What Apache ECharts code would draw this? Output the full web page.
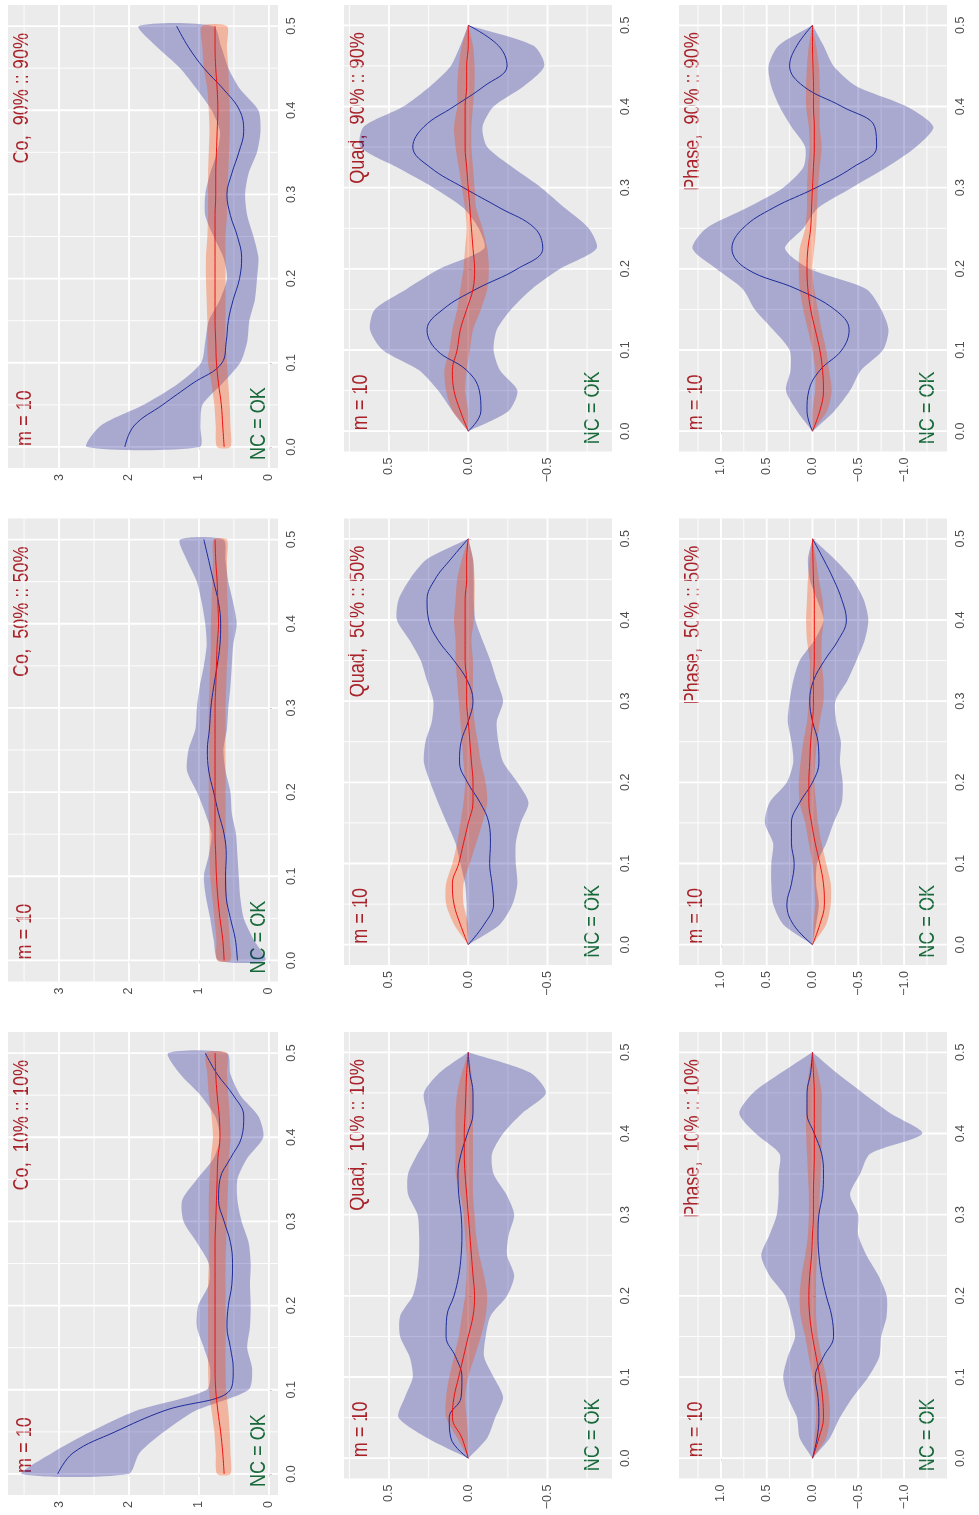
<!DOCTYPE html>
<html><head><meta charset="utf-8">
<script src="https://cdn.jsdelivr.net/npm/echarts@6/dist/echarts.min.js"></script>
<style>html,body{margin:0;padding:0;background:#fff}#c{width:979px;height:1515px}</style>
</head><body><div id="c"></div>
<script>
// ---------- data ----------
const freq = [0,0.025,0.05,0.075,0.1,0.125,0.15,0.175,0.2,0.225,0.25,0.275,0.3,0.325,0.35,0.375,0.4,0.425,0.45,0.475,0.5];
const freqTicks = [0,0.1,0.2,0.3,0.4,0.5];
const freqMinor = [0.05,0.15,0.25,0.35,0.45];
const coTicks = [0,1,2,3];
const coMinor = [0.5,1.5,2.5,3.5];
const quadTicks = [-0.5,0,0.5];
const quadMinor = [-0.75,-0.25,0.25,0.75];
const phaseTicks = [-1,-0.5,0,0.5,1];
const phaseMinor = [-1.25,-0.75,-0.25,0.25,0.75,1.25];

const titles = ['Co,  90% :: 90%','Quad,  90% :: 90%','Phase,  90% :: 90%',
                'Co,  50% :: 50%','Quad,  50% :: 50%','Phase,  50% :: 50%',
                'Co,  10% :: 10%','Quad,  10% :: 10%','Phase,  10% :: 10%'];
const mLabel = 'm = 10';
const ncLabel = 'NC = OK';

// Co 90%
const co90BlueHi = [2.60,2.41,1.79,1.30,0.97,0.91,0.86,0.70,0.60,0.65,0.79,0.91,0.91,0.84,0.74,0.70,0.82,1.03,1.27,1.60,1.86];
const co90BlueLo = [0.99,0.98,0.95,0.67,0.41,0.31,0.28,0.20,0.17,0.15,0.22,0.31,0.34,0.29,0.17,0.12,0.15,0.41,0.58,0.68,0.80];
const co90BlueMid = [2.06,1.93,1.52,1.10,0.67,0.61,0.58,0.51,0.42,0.39,0.45,0.55,0.60,0.53,0.43,0.36,0.42,0.65,0.93,1.15,1.32];
const co90RedHi = [0.74,0.76,0.78,0.82,0.87,0.88,0.88,0.89,0.90,0.90,0.88,0.87,0.87,0.87,0.86,0.85,0.86,0.88,0.93,0.95,0.96];
const co90RedLo = [0.55,0.55,0.56,0.58,0.60,0.62,0.62,0.62,0.62,0.62,0.62,0.60,0.60,0.58,0.57,0.56,0.56,0.57,0.58,0.60,0.60];
const co90RedMid = [0.64,0.66,0.68,0.72,0.75,0.76,0.77,0.77,0.77,0.77,0.77,0.77,0.76,0.76,0.75,0.74,0.73,0.74,0.76,0.77,0.77];
// Co 50%
const co50BlueHi = [0.72,0.79,0.84,0.90,0.93,0.86,0.82,0.91,1.03,1.17,1.15,1.05,1.03,0.99,0.93,0.89,0.91,0.96,1.03,1.17,1.27];
const co50BlueLo = [0.05,0.22,0.36,0.41,0.43,0.45,0.47,0.53,0.55,0.62,0.65,0.60,0.58,0.55,0.53,0.51,0.46,0.51,0.58,0.62,0.65];
const co50BlueMid = [0.45,0.48,0.55,0.61,0.62,0.61,0.64,0.72,0.79,0.86,0.88,0.85,0.83,0.79,0.74,0.70,0.69,0.72,0.79,0.86,0.93];
const co50RedHi = [0.74,0.75,0.78,0.81,0.84,0.85,0.85,0.86,0.86,0.86,0.86,0.86,0.86,0.85,0.84,0.83,0.83,0.82,0.81,0.80,0.79];
const co50RedLo = [0.55,0.56,0.58,0.60,0.61,0.62,0.62,0.62,0.62,0.62,0.62,0.62,0.62,0.61,0.60,0.58,0.58,0.59,0.60,0.60,0.60];
const co50RedMid = [0.64,0.66,0.70,0.73,0.75,0.76,0.77,0.77,0.77,0.77,0.77,0.77,0.77,0.76,0.75,0.74,0.72,0.73,0.74,0.76,0.77];
// Co 10%
const co10BlueHi = [3.53,3.10,2.55,1.90,0.89,0.84,0.93,1.03,1.01,0.86,0.86,1.03,1.22,1.24,1.03,0.79,0.70,0.77,0.98,1.27,1.44];
const co10BlueLo = [2.01,1.85,1.50,1.05,0.29,0.24,0.31,0.27,0.26,0.27,0.26,0.29,0.39,0.45,0.45,0.31,0.08,0.15,0.41,0.55,0.60];
const co10BlueMid = [3.02,2.80,2.20,1.50,0.55,0.51,0.55,0.60,0.58,0.53,0.52,0.55,0.64,0.72,0.70,0.55,0.39,0.36,0.51,0.74,0.91];
const co10RedHi = [0.74,0.76,0.78,0.82,0.86,0.87,0.87,0.87,0.87,0.87,0.86,0.86,0.86,0.86,0.85,0.83,0.80,0.82,0.86,0.88,0.90];
const co10RedLo = [0.55,0.55,0.56,0.58,0.61,0.62,0.62,0.62,0.62,0.62,0.62,0.61,0.60,0.59,0.58,0.57,0.55,0.56,0.58,0.60,0.60];
const co10RedMid = [0.64,0.66,0.69,0.73,0.76,0.77,0.77,0.77,0.77,0.77,0.77,0.77,0.76,0.75,0.74,0.73,0.70,0.71,0.74,0.76,0.77];
// Quad 90%
const quad90BlueHi = [0,0.10,0.19,0.31,0.54,0.62,0.59,0.39,0.18,-0.10,-0.065,0.03,0.22,0.45,0.68,0.66,0.41,0.24,0.11,0.05,0];
const quad90BlueLo = [0,-0.255,-0.31,-0.20,-0.16,-0.18,-0.27,-0.40,-0.58,-0.81,-0.76,-0.61,-0.46,-0.28,-0.12,-0.09,-0.16,-0.35,-0.48,-0.41,0];
const quad90BlueMid = [0,-0.08,-0.07,0.01,0.20,0.26,0.16,-0.05,-0.31,-0.47,-0.42,-0.20,0.03,0.24,0.35,0.28,0.09,-0.10,-0.245,-0.19,0];
const quad90RedHi = [0,0.10,0.14,0.15,0.12,0.10,0.07,0.05,0.03,0.02,0.01,0.02,0.04,0.06,0.08,0.09,0.07,0.07,0.06,0.04,0];
const quad90RedLo = [0,0.00,0.02,0.01,-0.01,-0.03,-0.08,-0.12,-0.13,-0.12,-0.09,-0.05,-0.04,-0.03,-0.02,-0.02,-0.03,-0.04,-0.04,-0.03,0];
const quad90RedMid = [0,0.05,0.09,0.10,0.07,0.05,0.01,-0.03,-0.04,-0.03,-0.02,-0.01,0.00,0.01,0.02,0.02,0.02,0.01,0.01,0.00,0];
// Quad 50%
const quad50BlueHi = [0,0.01,0.01,0.02,0.05,0.08,0.135,0.19,0.24,0.28,0.27,0.23,0.22,0.26,0.30,0.37,0.45,0.44,0.37,0.26,0];
const quad50BlueLo = [0,-0.20,-0.28,-0.31,-0.30,-0.30,-0.33,-0.38,-0.31,-0.22,-0.19,-0.18,-0.22,-0.18,-0.14,-0.09,-0.045,-0.035,-0.035,-0.03,0];
const quad50BlueMid = [0,-0.10,-0.16,-0.15,-0.135,-0.14,-0.13,-0.075,0.005,0.055,0.045,0.00,-0.03,0.005,0.09,0.19,0.25,0.26,0.21,0.11,0];
const quad50RedHi = [0,0.09,0.14,0.14,0.10,0.07,0.05,0.03,0.02,0.03,0.04,0.05,0.06,0.07,0.08,0.08,0.09,0.08,0.07,0.04,0];
const quad50RedLo = [0,0.00,0.03,0.03,-0.01,-0.05,-0.09,-0.12,-0.11,-0.08,-0.06,-0.04,-0.03,-0.03,-0.03,-0.02,-0.035,-0.04,-0.04,-0.03,0];
const quad50RedMid = [0,0.05,0.09,0.10,0.06,0.03,0.00,-0.03,-0.03,-0.02,-0.01,0.00,0.01,0.01,0.02,0.02,0.02,0.02,0.01,0.01,0];
// Quad 10%
const quad10BlueHi = [0,0.26,0.44,0.40,0.35,0.37,0.43,0.43,0.35,0.32,0.31,0.31,0.32,0.38,0.38,0.32,0.25,0.26,0.28,0.18,0];
const quad10BlueLo = [0,-0.12,-0.17,-0.22,-0.16,-0.10,-0.11,-0.14,-0.245,-0.29,-0.245,-0.255,-0.29,-0.24,-0.16,-0.15,-0.22,-0.34,-0.49,-0.39,0];
const quad10BlueMid = [0,0.11,0.12,0.045,0.04,0.08,0.14,0.135,0.09,0.06,0.045,0.04,0.045,0.06,0.065,0.045,0.005,-0.03,-0.03,-0.01,0];
const quad10RedHi = [0,0.07,0.14,0.14,0.12,0.09,0.06,0.04,0.02,0.01,0.01,0.02,0.03,0.05,0.08,0.08,0.08,0.08,0.07,0.04,0];
const quad10RedLo = [0,0.00,0.01,0.02,0.00,-0.04,-0.08,-0.11,-0.12,-0.10,-0.07,-0.05,-0.04,-0.03,-0.03,-0.03,-0.03,-0.03,-0.03,-0.02,0];
const quad10RedMid = [0,0.04,0.10,0.09,0.06,0.03,0.00,-0.03,-0.04,-0.03,-0.02,-0.01,0.00,0.01,0.02,0.025,0.025,0.02,0.015,0.01,0];
// Phase 90%
const phase90BlueHi = [0,0.17,0.29,0.24,0.25,0.43,0.63,0.76,1.05,1.31,1.16,0.72,0.32,0.10,0.08,0.23,0.36,0.45,0.48,0.37,0];
const phase90BlueLo = [0,-0.24,-0.41,-0.53,-0.77,-0.83,-0.75,-0.59,0.03,0.30,0.10,-0.06,-0.43,-0.81,-1.13,-1.32,-1.03,-0.48,-0.23,-0.12,0];
const phase90BlueMid = [0,0.06,0.04,-0.08,-0.32,-0.40,-0.24,0.17,0.72,0.88,0.76,0.43,-0.04,-0.44,-0.70,-0.68,-0.32,0.10,0.25,0.17,0];
const phase90RedHi = [0,0.00,-0.03,-0.03,0.00,0.05,0.10,0.14,0.15,0.14,0.08,0.06,0.06,0.05,0.03,0.04,0.07,0.07,0.06,0.04,0];
const phase90RedLo = [0,-0.16,-0.21,-0.18,-0.15,-0.10,-0.06,-0.02,0.00,-0.02,-0.04,-0.05,-0.06,-0.08,-0.10,-0.08,-0.08,-0.08,-0.07,-0.04,0];
const phase90RedMid = [0,-0.08,-0.12,-0.11,-0.08,-0.03,0.02,0.05,0.06,0.05,0.02,0.01,0.00,-0.01,-0.02,-0.02,-0.01,-0.01,-0.005,0,0];
// Phase 50%
const phase50BlueHi = [0,0.32,0.43,0.45,0.45,0.43,0.52,0.47,0.28,0.21,0.23,0.27,0.25,0.21,0.14,-0.02,-0.12,-0.05,0.03,0.05,0];
const phase50BlueLo = [0,-0.04,-0.07,-0.04,-0.05,-0.15,-0.23,-0.32,-0.33,-0.30,-0.31,-0.26,-0.25,-0.38,-0.48,-0.57,-0.61,-0.56,-0.44,-0.24,0];
const phase50BlueMid = [0,0.21,0.28,0.23,0.20,0.23,0.23,0.14,0.00,-0.07,-0.06,0.00,0.03,-0.01,-0.13,-0.28,-0.37,-0.32,-0.23,-0.12,0];
const phase50RedHi = [0,-0.01,-0.03,-0.02,0.00,0.04,0.08,0.14,0.15,0.13,0.10,0.06,0.04,0.03,0.03,0.06,0.07,0.06,0.05,0.03,0];
const phase50RedLo = [0,-0.15,-0.20,-0.20,-0.15,-0.10,-0.06,-0.04,-0.02,-0.03,-0.05,-0.08,-0.12,-0.12,-0.10,-0.10,-0.12,-0.11,-0.07,-0.04,0];
const phase50RedMid = [0,-0.08,-0.13,-0.12,-0.08,-0.03,0.01,0.04,0.04,0.03,0.02,0.00,-0.01,-0.01,-0.02,-0.02,-0.02,-0.02,-0.01,-0.005,0];
// Phase 10%
const phase10BlueHi = [0,0.14,0.17,0.27,0.32,0.27,0.19,0.23,0.30,0.47,0.56,0.47,0.39,0.37,0.37,0.36,0.62,0.80,0.65,0.34,0];
const phase10BlueLo = [0,-0.19,-0.30,-0.44,-0.61,-0.73,-0.75,-0.81,-0.81,-0.72,-0.59,-0.50,-0.50,-0.41,-0.52,-0.63,-1.20,-0.85,-0.55,-0.26,0];
const phase10BlueMid = [0,-0.05,-0.07,-0.06,-0.03,-0.12,-0.23,-0.21,-0.15,-0.10,-0.07,-0.06,-0.07,-0.11,-0.12,-0.10,-0.02,0.06,0.06,0.02,0];
const phase10RedHi = [0,-0.02,-0.04,-0.03,0.00,0.04,0.08,0.13,0.14,0.12,0.08,0.05,0.04,0.04,0.05,0.06,0.07,0.07,0.06,0.04,0];
const phase10RedLo = [0,-0.15,-0.19,-0.18,-0.15,-0.10,-0.06,-0.04,-0.04,-0.04,-0.05,-0.06,-0.07,-0.08,-0.09,-0.10,-0.10,-0.10,-0.10,-0.06,0];
const phase10RedMid = [0,-0.07,-0.12,-0.11,-0.08,-0.04,0.00,0.03,0.04,0.03,0.01,0.00,-0.01,-0.01,-0.015,-0.02,-0.02,-0.02,-0.02,-0.01,0];

// ---------- layout / style ----------
const FREQ_MIN = -0.025, FREQ_MAX = 0.525;
const kinds = {
  Co:    {min:-0.13, max:3.73, ticks:coTicks, minor:coMinor, left:8, width:270, fmt:v=>String(Math.round(v))},
  Quad:  {min:-0.907, max:0.784, ticks:quadTicks, minor:quadMinor, left:344, width:268, fmt:v=>(v<0?'\u2212':'')+Math.abs(v).toFixed(1)},
  Phase: {min:-1.469, max:1.458, ticks:phaseTicks, minor:phaseMinor, left:679, width:268, fmt:v=>(v<0?'\u2212':'')+Math.abs(v).toFixed(1)}
};
const rowTops = [5, 518.5, 1032];
const panels = [
  {k:'Co', r:0, b:[co90BlueLo,co90BlueHi,co90BlueMid], d:[co90RedLo,co90RedHi,co90RedMid]},
  {k:'Quad', r:0, b:[quad90BlueLo,quad90BlueHi,quad90BlueMid], d:[quad90RedLo,quad90RedHi,quad90RedMid]},
  {k:'Phase', r:0, b:[phase90BlueLo,phase90BlueHi,phase90BlueMid], d:[phase90RedLo,phase90RedHi,phase90RedMid]},
  {k:'Co', r:1, b:[co50BlueLo,co50BlueHi,co50BlueMid], d:[co50RedLo,co50RedHi,co50RedMid]},
  {k:'Quad', r:1, b:[quad50BlueLo,quad50BlueHi,quad50BlueMid], d:[quad50RedLo,quad50RedHi,quad50RedMid]},
  {k:'Phase', r:1, b:[phase50BlueLo,phase50BlueHi,phase50BlueMid], d:[phase50RedLo,phase50RedHi,phase50RedMid]},
  {k:'Co', r:2, b:[co10BlueLo,co10BlueHi,co10BlueMid], d:[co10RedLo,co10RedHi,co10RedMid]},
  {k:'Quad', r:2, b:[quad10BlueLo,quad10BlueHi,quad10BlueMid], d:[quad10RedLo,quad10RedHi,quad10RedMid]},
  {k:'Phase', r:2, b:[phase10BlueLo,phase10BlueHi,phase10BlueMid], d:[phase10RedLo,phase10RedHi,phase10RedMid]}
];
const FONT = '"Liberation Sans", Arial, sans-serif';
const BLUE_FILL = 'rgba(0,0,139,0.28)';
const RED_FILL = 'rgba(255,69,0,0.32)';
const BLUE_LINE = '#1c2b9a';
const RED_LINE = '#ee1111';

const grids=[], xAxes=[], yAxes=[], series=[];
panels.forEach((p,i)=>{
  const K = kinds[p.k];
  const h = p.k==='Co' ? 463 : 446.5;
  grids.push({left:K.left, top:rowTops[p.r], width:K.width, height:h, show:true, backgroundColor:'#EBEBEB', borderWidth:0, containLabel:false});
  xAxes.push({type:'value', gridIndex:i, inverse:true, min:K.min, max:K.max, position:'bottom',
    axisLine:{show:false}, splitLine:{show:false},
    axisTick:{show:true, length:3, lineStyle:{color:'#333', width:1}, customValues:K.ticks},
    axisLabel:{show:true, customValues:K.ticks, formatter:K.fmt, rotate:90, margin:6, color:'#4D4D4D', fontSize:12.5, fontFamily:FONT}});
  yAxes.push({type:'value', gridIndex:i, min:FREQ_MIN, max:FREQ_MAX, position:'right',
    axisLine:{show:false}, splitLine:{show:false},
    axisTick:{show:true, length:3, lineStyle:{color:'#333', width:1}, customValues:freqTicks},
    axisLabel:{show:true, customValues:freqTicks, formatter:v=>v.toFixed(1), rotate:90, margin:7, color:'#4D4D4D', fontSize:12.5, fontFamily:FONT}});
  // grid lines
  series.push({type:'custom', xAxisIndex:i, yAxisIndex:i, z:1, silent:true, data:[[0,0.25]],
    renderItem:(params, api)=>{
      const ch=[];
      const v=(x,w)=>{const a=api.coord([x,FREQ_MIN]), b=api.coord([x,FREQ_MAX]); ch.push({type:'line', shape:{x1:a[0],y1:a[1],x2:b[0],y2:b[1]}, style:{stroke:'#ffffff', lineWidth:w}});};
      const hz=(f,w)=>{const a=api.coord([K.min,f]), b=api.coord([K.max,f]); ch.push({type:'line', shape:{x1:a[0],y1:a[1],x2:b[0],y2:b[1]}, style:{stroke:'#ffffff', lineWidth:w}});};
      K.minor.forEach(x=>v(x,0.9)); freqMinor.forEach(f=>hz(f,0.9));
      K.ticks.forEach(x=>v(x,1.8)); freqTicks.forEach(f=>hz(f,1.8));
      return {type:'group', children:ch};
    }});
  const band=(lo,hi,fill,z)=>({type:'custom', xAxisIndex:i, yAxisIndex:i, z:z, silent:true, data:[[0,0.25]],
    renderItem:(params, api)=>{
      const pts=[];
      for(let j=0;j<freq.length;j++) pts.push(api.coord([hi[j],freq[j]]));
      for(let j=freq.length-1;j>=0;j--) pts.push(api.coord([lo[j],freq[j]]));
      return {type:'polygon', shape:{points:pts, smooth:0.25}, style:{fill:fill}};
    }});
  series.push(band(p.b[0],p.b[1],BLUE_FILL,2));
  series.push(band(p.d[0],p.d[1],RED_FILL,3));
  const line=(mid,color,z)=>({type:'line', xAxisIndex:i, yAxisIndex:i, z:z, silent:true, symbol:'none', smooth:0.4,
    data:freq.map((f,j)=>[mid[j],f]), lineStyle:{color:color, width:1}});
  series.push(line(p.b[2],BLUE_LINE,4));
  series.push(line(p.d[2],RED_LINE,5));
});

const chart = echarts.init(document.getElementById('c'), null, {renderer:'canvas'});
chart.setOption({animation:false, backgroundColor:'#ffffff', grid:grids, xAxis:xAxes, yAxis:yAxes, series:series});

// rotated annotations, placed through the grids' coordinate systems
const gfx=[];
panels.forEach((p,i)=>{
  const K = kinds[p.k];
  const y0 = chart.convertToPixel({gridIndex:i},[0,0])[1];
  const y5 = chart.convertToPixel({gridIndex:i},[0,0.5])[1];
  const L = K.left, R = K.left+K.width;
  const mk=(text,x,y,align,color)=>({type:'text', x:x, y:y, rotation:Math.PI/2, scaleX:0.82, scaleY:1, silent:true,
    style:{text:text, fill:color, fontSize:22, fontFamily:FONT, align:align, verticalAlign:'middle', textAlign:align, textVerticalAlign:'middle'}});
  gfx.push(mk(mLabel, L+16.5, y0-1, 'left', '#A8222A'));
  gfx.push(mk(titles[i], L+14, y5+7, 'right', '#A8222A'));
  gfx.push(mk(ncLabel, R-19, y0+13, 'left', '#17693A'));
});
chart.setOption({graphic:gfx});
</script>
</body></html>
